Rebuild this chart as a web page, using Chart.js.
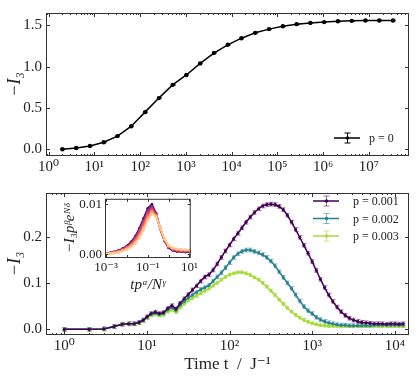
<!DOCTYPE html>
<html>
<head>
<meta charset="utf-8">
<script src="https://cdn.jsdelivr.net/npm/chart.js@4.4.0/dist/chart.umd.min.js"></script>
<style>
  body { margin: 0; background: #fff; }
  #wrap { position: relative; width: 416px; height: 381px; }
  canvas { position: absolute; }
</style>
</head>
<body>
<div id="wrap">
  <canvas id="top" width="416" height="180" style="left:0;top:0;width:416px;height:180px"></canvas>
  <canvas id="bottom" width="416" height="201" style="left:0;top:180px;width:416px;height:201px"></canvas>
  <canvas id="inset" width="140" height="107" style="left:60px;top:188px;width:140px;height:107px"></canvas>
</div>
<script>
// ---- top panel data (p = 0) ----
var tTop = [2, 4, 8, 16, 32, 64, 128, 256, 512, 1024, 2048, 4096, 8192, 16384, 32768, 65536,
  131072, 262144, 524288, 1048576, 2097152, 4194304, 8388608, 16777216, 33554432];
var iTopP0 = [0.00, 0.015, 0.04, 0.085, 0.16, 0.28, 0.45, 0.62, 0.78, 0.90, 1.04, 1.165, 1.265,
  1.345, 1.41, 1.455, 1.49, 1.515, 1.53, 1.54, 1.55, 1.555, 1.56, 1.56, 1.56];
var errTop = 0.006;
var topXTicks = [1, 10, 100, 1e3, 1e4, 1e5, 1e6, 1e7];
var topXLabels = ['10⁰', '10¹', '10²', '10³', '10⁴', '10⁵', '10⁶', '10⁷'];
var topYTicks = [0, 0.5, 1.0, 1.5];
var topYLabels = ['0.0', '0.5', '1.0', '1.5'];

// ---- bottom panel data ----
var tBottom = [1, 2, 3, 4, 5, 6, 7, 8, 9, 10,
  11.2, 12.6, 14.1, 15.8, 17.8, 20.0, 22.4, 25.1, 28.2, 31.6,
  35.5, 39.8, 44.7, 50.1, 56.2, 63.1, 70.8, 79.4, 89.1, 100,
  112, 126, 141, 158, 178, 200, 224, 251, 282, 316,
  355, 398, 447, 501, 562, 631, 708, 794, 891, 1000,
  1122, 1259, 1413, 1585, 1778, 1995, 2239, 2512, 2818, 3162,
  3548, 3981, 4467, 5012, 5623, 6310, 7079, 7943, 8913, 10000,
  11220, 12589];
var iP001 = [0.000, 0.000, 0.001, 0.006, 0.011, 0.012, 0.012, 0.015, 0.020, 0.027,
  0.034, 0.037, 0.034, 0.036, 0.045, 0.051, 0.044, 0.056, 0.066, 0.075,
  0.085, 0.094, 0.104, 0.113, 0.118, 0.128, 0.141, 0.155, 0.169, 0.182,
  0.195, 0.207, 0.219, 0.231, 0.242, 0.252, 0.260, 0.266, 0.269, 0.270,
  0.269, 0.265, 0.258, 0.246, 0.231, 0.215, 0.198, 0.181, 0.164, 0.146,
  0.127, 0.108, 0.090, 0.074, 0.060, 0.048, 0.038, 0.030, 0.024, 0.020,
  0.017, 0.015, 0.014, 0.013, 0.012, 0.012, 0.012, 0.011, 0.012, 0.012,
  0.011, 0.012];
var iP002 = [0.000, 0.000, 0.001, 0.006, 0.011, 0.012, 0.012, 0.014, 0.019, 0.026,
  0.032, 0.035, 0.032, 0.034, 0.042, 0.047, 0.041, 0.052, 0.060, 0.068,
  0.074, 0.080, 0.086, 0.090, 0.095, 0.104, 0.113, 0.122, 0.133, 0.144,
  0.155, 0.163, 0.168, 0.171, 0.171, 0.168, 0.165, 0.161, 0.155, 0.147,
  0.137, 0.124, 0.112, 0.100, 0.088, 0.074, 0.061, 0.049, 0.040, 0.034,
  0.026, 0.021, 0.017, 0.014, 0.012, 0.010, 0.009, 0.009, 0.008, 0.008,
  0.008, 0.008, 0.008, 0.008, 0.009, 0.009, 0.009, 0.009, 0.009, 0.009,
  0.009, 0.009];
var iP003 = [0.000, 0.000, 0.001, 0.006, 0.011, 0.012, 0.012, 0.014, 0.018, 0.025,
  0.030, 0.033, 0.030, 0.031, 0.038, 0.042, 0.037, 0.047, 0.055, 0.062,
  0.067, 0.072, 0.078, 0.083, 0.088, 0.094, 0.100, 0.107, 0.113, 0.118,
  0.121, 0.123, 0.123, 0.121, 0.117, 0.112, 0.107, 0.100, 0.092, 0.083,
  0.074, 0.064, 0.055, 0.046, 0.038, 0.031, 0.025, 0.020, 0.016, 0.013,
  0.011, 0.009, 0.008, 0.007, 0.007, 0.007, 0.007, 0.007, 0.007, 0.007,
  0.007, 0.007, 0.007, 0.007, 0.007, 0.007, 0.007, 0.007, 0.007, 0.007,
  0.007, 0.007];
var errBottom = [0.004, 0.004, 0.003];
var bottomLabels = ['p = 0.001', 'p = 0.002', 'p = 0.003'];
var bottomXTicks = [1, 10, 100, 1000, 10000];
var bottomXLabels = ['10⁰', '10¹', '10²', '10³', '10⁴'];
var bottomYTicks = [0, 0.1, 0.2];
var bottomYLabels = ['0.0', '0.1', '0.2'];

// ---- inset data (collapsed curves) ----
var xInset = [0.001, 0.00158, 0.00251, 0.00398, 0.00631, 0.01, 0.0158, 0.0251, 0.0398, 0.0631,
  0.1, 0.158, 0.251, 0.398, 0.631, 1, 1.58, 2.51, 3.98, 6.31, 10];
var inset1 = [0.0002, 0.0003, 0.0005, 0.0008, 0.0012, 0.0017, 0.0025, 0.0036, 0.0052, 0.0072,
  0.0092, 0.0100, 0.0082, 0.0052, 0.0027, 0.0013, 0.0008, 0.0006, 0.0006, 0.0005, 0.0005];
var inset2 = [0.0002, 0.0003, 0.0005, 0.0007, 0.0011, 0.0016, 0.0023, 0.0034, 0.0049, 0.0068,
  0.0088, 0.0096, 0.0080, 0.0051, 0.0027, 0.0014, 0.0009, 0.0007, 0.0006, 0.0006, 0.0006];
var inset3 = [0.0002, 0.0003, 0.0004, 0.0007, 0.0010, 0.0015, 0.0021, 0.0031, 0.0045, 0.0064,
  0.0083, 0.0092, 0.0079, 0.0051, 0.0028, 0.0015, 0.0010, 0.0008, 0.0007, 0.0007, 0.0006];
var inset4 = [0.0002, 0.0002, 0.0004, 0.0006, 0.0009, 0.0013, 0.0019, 0.0028, 0.0041, 0.0059,
  0.0078, 0.0088, 0.0078, 0.0052, 0.0029, 0.0016, 0.0011, 0.0009, 0.0008, 0.0008, 0.0007];
var inset5 = [0.0001, 0.0002, 0.0003, 0.0005, 0.0008, 0.0012, 0.0017, 0.0025, 0.0037, 0.0054,
  0.0073, 0.0085, 0.0077, 0.0053, 0.0030, 0.0017, 0.0012, 0.0010, 0.0009, 0.0009, 0.0008];
var inset6 = [0.0001, 0.0002, 0.0003, 0.0004, 0.0007, 0.0010, 0.0015, 0.0022, 0.0033, 0.0049,
  0.0068, 0.0081, 0.0075, 0.0053, 0.0031, 0.0018, 0.0013, 0.0011, 0.0010, 0.0009, 0.0009];
var insetColors = ['#3b0f70', '#8c2981', '#c83e73', '#f1605d', '#fd9668', '#fec98d'];
var insetXTicks = [0.001, 0.1, 10];
var insetXLabels = ['10⁻³', '10⁻¹', '10¹'];
var insetYTicks = [0, 0.01];
var insetYLabels = ['0.00', '0.01'];

var serif = "'Liberation Serif', 'DejaVu Serif', serif";
Chart.defaults.color = '#222';
Chart.defaults.font.family = serif;

function pts(xs, ys) {
  return xs.map(function(x, i) { return {x: x, y: ys[i]}; });
}

// frame + inward ticks (major/minor on the log x axis)
var frameTicks = {
  id: 'frameTicks',
  afterDraw: function(chart, args, opts) {
    var ctx = chart.ctx, a = chart.chartArea;
    var xs = chart.scales.x, ys = chart.scales.y;
    var big = opts.major || 4, small = opts.minor || 0;
    ctx.save();
    ctx.strokeStyle = '#333';
    ctx.lineWidth = 1;
    ctx.beginPath();
    var lo = Math.floor(Math.log10(xs.min)), hi = Math.ceil(Math.log10(xs.max));
    for (var d = lo; d <= hi; d++) {
      for (var m = 1; m < 10; m++) {
        var v = m * Math.pow(10, d);
        if (v < xs.min || v > xs.max) continue;
        var len = m === 1 ? big : small;
        if (!len) continue;
        var px = Math.round(xs.getPixelForValue(v)) + 0.5;
        ctx.moveTo(px, a.bottom); ctx.lineTo(px, a.bottom - len);
        ctx.moveTo(px, a.top); ctx.lineTo(px, a.top + len);
      }
    }
    ys.ticks.forEach(function(t) {
      var py = Math.round(ys.getPixelForValue(t.value)) + 0.5;
      ctx.moveTo(a.left, py); ctx.lineTo(a.left + big, py);
      ctx.moveTo(a.right, py); ctx.lineTo(a.right - big, py);
    });
    ctx.stroke();
    ctx.strokeRect(a.left + 0.5, a.top + 0.5, a.width - 1, a.height - 1);
    ctx.restore();
  }
};

// vertical error bars with caps, under the lines
var errorBars = {
  id: 'errorBars',
  beforeDatasetsDraw: function(chart) {
    var ctx = chart.ctx, xs = chart.scales.x, ys = chart.scales.y, a = chart.chartArea;
    ctx.save();
    ctx.beginPath();
    ctx.rect(a.left, a.top, a.width, a.height);
    ctx.clip();
    chart.data.datasets.forEach(function(ds) {
      if (!ds.err) return;
      ctx.strokeStyle = ds.errColor;
      ctx.lineWidth = 1;
      ctx.beginPath();
      ds.data.forEach(function(p) {
        var x = Math.round(xs.getPixelForValue(p.x)) + 0.5;
        var y0 = ys.getPixelForValue(p.y - ds.err);
        var y1 = ys.getPixelForValue(p.y + ds.err);
        ctx.moveTo(x, y0); ctx.lineTo(x, y1);
        ctx.moveTo(x - 2, y0); ctx.lineTo(x + 2, y0);
        ctx.moveTo(x - 2, y1); ctx.lineTo(x + 2, y1);
      });
      ctx.stroke();
    });
    ctx.restore();
  }
};

// legend with the errorbar symbol (positions in canvas pixels)
var errLegend = {
  id: 'errLegend',
  afterDraw: function(chart, args, opts) {
    var ctx = chart.ctx;
    ctx.save();
    ctx.font = opts.size + 'px ' + serif;
    ctx.textBaseline = 'middle';
    chart.data.datasets.forEach(function(ds, i) {
      var y = opts.y + i * opts.dy;
      var cx = opts.x + opts.w / 2;
      ctx.strokeStyle = ds.errColor;
      ctx.lineWidth = 1;
      ctx.beginPath();
      ctx.moveTo(cx + 0.5, y - 5); ctx.lineTo(cx + 0.5, y + 5);
      ctx.moveTo(cx - 2.5, y - 5); ctx.lineTo(cx + 3.5, y - 5);
      ctx.moveTo(cx - 2.5, y + 5); ctx.lineTo(cx + 3.5, y + 5);
      ctx.stroke();
      ctx.strokeStyle = ds.borderColor;
      ctx.lineWidth = 1.5;
      ctx.beginPath();
      ctx.moveTo(opts.x, y); ctx.lineTo(opts.x + opts.w, y);
      ctx.stroke();
      ctx.fillStyle = ds.borderColor;
      ctx.beginPath();
      ctx.arc(cx + 0.5, y, 1.8, 0, Math.PI * 2);
      ctx.fill();
      ctx.fillStyle = '#222';
      ctx.fillText(ds.label, opts.x + opts.w + opts.gap, y + 1);
    });
    ctx.restore();
  }
};

// white background for the inset plot area
var insetBg = {
  id: 'insetBg',
  beforeDraw: function(chart) {
    var a = chart.chartArea;
    chart.ctx.save();
    chart.ctx.fillStyle = '#fff';
    chart.ctx.fillRect(a.left, a.top, a.width, a.height);
    chart.ctx.restore();
  }
};

function fixedTicks(values) {
  return function(scale) { scale.ticks = values.map(function(v) { return {value: v}; }); };
}

var noGrid = { display: false, drawTicks: false };

// ---- top chart ----
new Chart(document.getElementById('top').getContext('2d'), {
  type: 'line',
  data: {
    datasets: [{
      label: 'p = 0',
      data: pts(tTop, iTopP0),
      err: errTop,
      errColor: '#000',
      borderColor: '#000',
      backgroundColor: '#000',
      borderWidth: 1.5,
      pointRadius: 2.2,
      pointBorderWidth: 0,
      fill: false
    }]
  },
  options: {
    responsive: false,
    animation: false,
    layout: { padding: { top: 6, right: 7, left: 0, bottom: 0 } },
    scales: {
      x: {
        type: 'logarithmic', min: 0.877, max: 7.5e7,
        grid: noGrid, border: { display: false },
        afterBuildTicks: fixedTicks(topXTicks),
        afterFit: function(s) { s.height = 24; },
        ticks: { autoSkip: false, maxRotation: 0, padding: 2, font: { size: 15 },
          callback: function(v, i) { return topXLabels[i]; } }
      },
      y: {
        min: -0.081, max: 1.65,
        grid: noGrid, border: { display: false },
        afterBuildTicks: fixedTicks(topYTicks),
        afterFit: function(s) { s.width = 46; },
        ticks: { padding: 4, font: { size: 15 },
          callback: function(v, i) { return topYLabels[i]; } },
        title: { display: true, text: '−I₃', padding: { top: 4, bottom: 0 },
          font: { size: 18, style: 'italic' } }
      }
    },
    plugins: {
      legend: { display: false },
      tooltip: { enabled: false },
      errLegend: { x: 334, y: 138, dy: 0, w: 26, gap: 9, size: 12 },
      frameTicks: { major: 4, minor: 2 }
    }
  },
  plugins: [errorBars, frameTicks, errLegend]
});

// ---- bottom chart ----
var bottomColors = ['#440154', '#26828e', '#a5db36'];
var bottomErrColors = ['rgba(68,1,84,0.55)', 'rgba(38,130,142,0.55)', 'rgba(165,219,54,0.6)'];
var bottomSeries = [iP001, iP002, iP003];

new Chart(document.getElementById('bottom').getContext('2d'), {
  type: 'line',
  data: {
    datasets: bottomSeries.map(function(s, i) {
      return {
        label: bottomLabels[i],
        data: pts(tBottom, s),
        err: errBottom[i],
        errColor: bottomErrColors[i],
        borderColor: bottomColors[i],
        backgroundColor: bottomColors[i],
        borderWidth: 1.5,
        pointRadius: 1.6,
        pointBorderWidth: 0,
        fill: false
      };
    })
  },
  options: {
    responsive: false,
    animation: false,
    layout: { padding: { top: 5, right: 7, left: 0, bottom: 0 } },
    scales: {
      x: {
        type: 'logarithmic', min: 0.63, max: 14850,
        grid: noGrid, border: { display: false },
        afterBuildTicks: fixedTicks(bottomXTicks),
        afterFit: function(s) { s.height = 46; },
        ticks: { autoSkip: false, maxRotation: 0, padding: 2, font: { size: 15 },
          callback: function(v, i) { return bottomXLabels[i]; } },
        title: { display: true, text: 'Time t  /  J⁻¹', padding: { top: 0, bottom: 6 },
          font: { size: 17 } }
      },
      y: {
        min: -0.0122, max: 0.294,
        grid: noGrid, border: { display: false },
        afterBuildTicks: fixedTicks(bottomYTicks),
        afterFit: function(s) { s.width = 46; },
        ticks: { padding: 4, font: { size: 15 },
          callback: function(v, i) { return bottomYLabels[i]; } },
        title: { display: true, text: '−I₃', padding: { top: 4, bottom: 0 },
          font: { size: 18, style: 'italic' } }
      }
    },
    plugins: {
      legend: { display: false },
      tooltip: { enabled: false },
      errLegend: { x: 313, y: 21, dy: 17.5, w: 26, gap: 14, size: 12 },
      frameTicks: { major: 4, minor: 2 }
    }
  },
  plugins: [errorBars, frameTicks, errLegend]
});

// ---- inset chart ----
var insetSeries = [inset1, inset2, inset3, inset4, inset5, inset6];

new Chart(document.getElementById('inset').getContext('2d'), {
  type: 'line',
  data: {
    datasets: insetSeries.map(function(s, i) {
      return {
        data: pts(xInset, s),
        borderColor: insetColors[i],
        backgroundColor: insetColors[i],
        borderWidth: 1.8,
        pointRadius: 1.4,
        pointBorderWidth: 0,
        fill: false
      };
    }).reverse()
  },
  options: {
    responsive: false,
    animation: false,
    layout: { padding: { top: 6, right: 6, left: 0, bottom: 0 } },
    scales: {
      x: {
        type: 'logarithmic', min: 0.00089, max: 11.5,
        grid: noGrid, border: { display: false },
        afterBuildTicks: fixedTicks(insetXTicks),
        afterFit: function(s) { s.height = 37; },
        ticks: { autoSkip: false, maxRotation: 0, padding: 2, font: { size: 13 },
          callback: function(v, i) { return insetXLabels[i]; } },
        title: { display: true, text: 'tpᵅ/Nᵞ', padding: { top: 0, bottom: 1 },
          font: { size: 15, style: 'italic' } }
      },
      y: {
        min: -0.0007, max: 0.0111,
        grid: noGrid, border: { display: false },
        afterBuildTicks: fixedTicks(insetYTicks),
        afterFit: function(s) { s.width = 45; },
        ticks: { padding: 3, font: { size: 13 },
          callback: function(v, i) { return insetYLabels[i]; } },
        title: { display: true, text: '−I₃pᵝeᴺᵟ', padding: { top: 1, bottom: 0 },
          font: { size: 15, style: 'italic' } }
      }
    },
    plugins: {
      legend: { display: false },
      tooltip: { enabled: false },
      frameTicks: { major: 3, minor: 0 }
    }
  },
  plugins: [insetBg, frameTicks]
});
</script>
</body>
</html>
